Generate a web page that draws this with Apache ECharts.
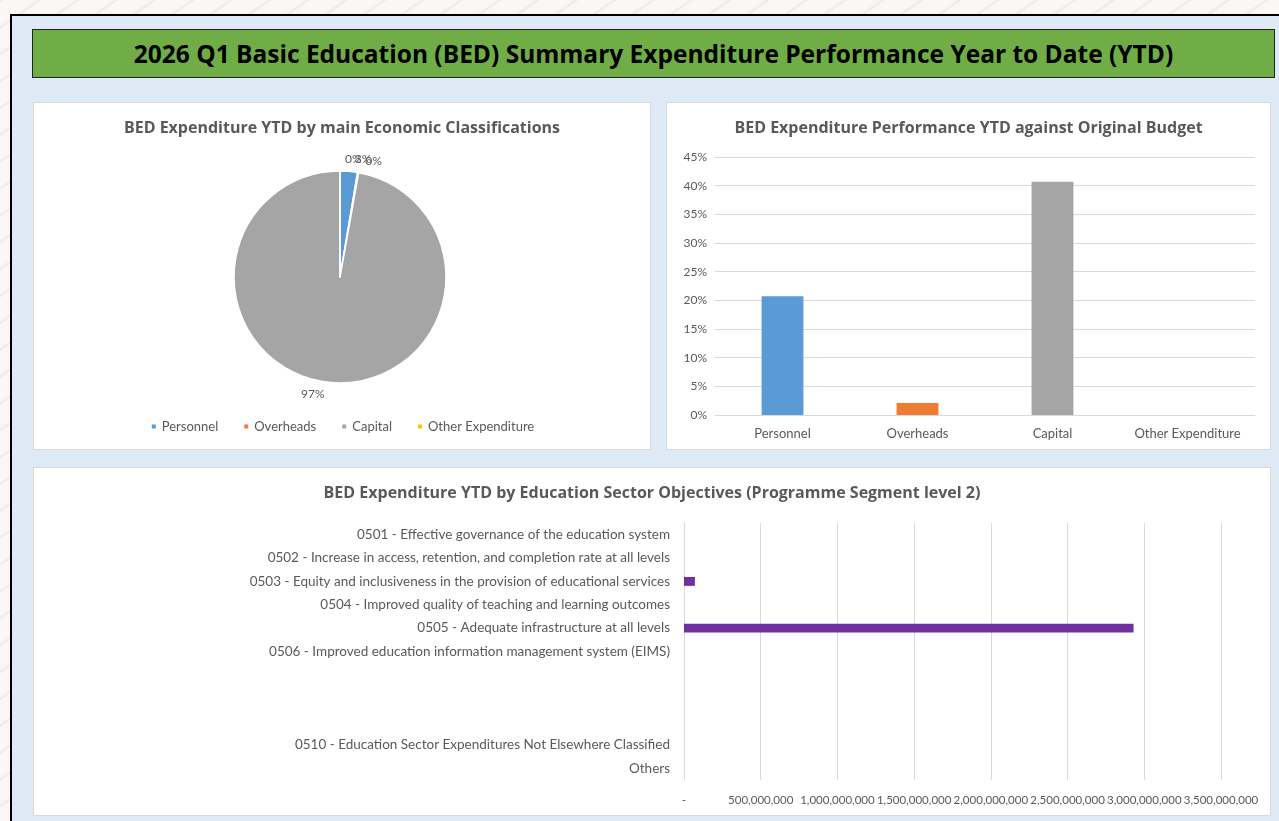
<!DOCTYPE html>
<html>
<head>
<meta charset="utf-8">
<script src="https://cdn.jsdelivr.net/npm/echarts@6/dist/echarts.min.js"></script>
<style>
  body { margin: 0; width: 1279px; height: 821px; overflow: hidden; position: relative;
    background: repeating-linear-gradient(-35deg, #fbf7f7 0px, #fbf7f7 18px, #f3e6e6 19px, #fbf7f7 22px); }
  #frame { position: absolute; left: 10px; top: 14px; width: 1280px; height: 820px;
    border-left: 2px solid #000; border-top: 2px solid #000; background: #DEEBF7; }
  #banner { position: absolute; left: 32px; top: 29px; width: 1241px; height: 47px;
    background: #70AD47; border: 1.5px solid #222; font-family: "Open Sans", sans-serif; font-weight: bold;
    font-size: 24.5px; line-height: 47px; text-align: center; color: #000; }
  .panel { position: absolute; background: #fff; border: 1px solid #d9d9d9; box-sizing: border-box; }
  #pie { left: 33px; top: 102px; width: 618px; height: 348px; }
  #bar { left: 666px; top: 102px; width: 605px; height: 348px; }
  #hbar { left: 33px; top: 467px; width: 1238px; height: 349px; }
</style>
</head>
<body>
<div id="frame"></div>
<div id="banner">2026 Q1 Basic Education (BED) Summary Expenditure Performance Year to Date (YTD)</div>
<div class="panel" id="pie"></div>
<div class="panel" id="bar"></div>
<div class="panel" id="hbar"></div>
<script>
// economic classifications
var classNames = ['Personnel', 'Overheads', 'Capital', 'Other Expenditure']
var classColors = ['#5B9BD5', '#ED7D31', '#A5A5A5', '#FFC000']
var expenditureYTD = [80000000, 5000000, 2930000000, 0]   // for the pie
var performanceYTD = [0.207, 0.021, 0.407, 0]               // share of original budget

// programme segment level 2
var objectives = [
  '0501 - Effective governance of the education system',
  '0502 - Increase in access, retention, and completion rate at all levels',
  '0503 - Equity and inclusiveness in the provision of educational services',
  '0504 - Improved quality of teaching and learning outcomes',
  '0505 - Adequate infrastructure at all levels',
  '0506 - Improved education information management system (EIMS)',
  '', ' ', '  ',
  '0510 - Education Sector Expenditures Not Elsewhere Classified',
  'Others'
]
var objectiveValues = [0, 0, 71000000, 0, 2930000000, 0, 0, 0, 0, 0, 0]

var font = 'Lato, sans-serif'
var txt = '#595959'
var titleStyle = { color: txt, fontSize: 16, fontWeight: 'bold', fontFamily: '"Open Sans", sans-serif' }

// pie
var pieChart = echarts.init(document.getElementById('pie'))
pieChart.setOption({
  animation: false,
  title: { text: 'BED Expenditure YTD by main Economic Classifications', left: 'center', top: 12, textStyle: titleStyle },
  legend: {
    bottom: 11, left: 'center', itemWidth: 6, itemHeight: 6, itemGap: 24, icon: 'rect',
    textStyle: { color: txt, fontSize: 13, fontFamily: font },
    data: classNames
  },
  series: [{
    type: 'pie',
    center: [306, 174],
    radius: 106,
    startAngle: 90,
    percentPrecision: 0,
    avoidLabelOverlap: false,
    labelLayout: { hideOverlap: false },
    itemStyle: { borderColor: '#fff', borderWidth: 1.5 },
    label: { show: true, position: 'outside', formatter: '{d}%', color: txt, fontSize: 12, fontFamily: font },
    labelLine: { show: false, length: 12, length2: 0 },
    data: classNames.map(function (n, i) {
      return { name: n, value: expenditureYTD[i], itemStyle: { color: classColors[i] } }
    })
  }]
})

// vertical bars
var barChart = echarts.init(document.getElementById('bar'))
barChart.setOption({
  animation: false,
  title: { text: 'BED Expenditure Performance YTD against Original Budget', left: 'center', top: 12, textStyle: titleStyle },
  grid: { left: 48, right: 15, top: 54, bottom: 34 },
  xAxis: {
    type: 'category', data: classNames,
    axisLine: { lineStyle: { color: '#d9d9d9' } }, axisTick: { show: false },
    axisLabel: { interval: 0, color: txt, fontSize: 13, fontFamily: font, margin: 12 }
  },
  yAxis: {
    type: 'value', min: 0, max: 0.45, interval: 0.05,
    axisLabel: { color: txt, fontSize: 12, fontFamily: font, formatter: function (v) { return Math.round(v * 100) + '%' } },
    splitLine: { lineStyle: { color: '#d9d9d9' } }
  },
  series: [{
    type: 'bar', barWidth: '31%',
    data: performanceYTD.map(function (v, i) { return { value: v, itemStyle: { color: classColors[i] } } })
  }]
})

// horizontal bars
var hbarChart = echarts.init(document.getElementById('hbar'))
hbarChart.setOption({
  animation: false,
  title: { text: 'BED Expenditure YTD by Education Sector Objectives (Programme Segment level 2)', left: 'center', top: 12, textStyle: titleStyle },
  grid: { left: 650, right: 49, top: 55, bottom: 35 },
  yAxis: {
    type: 'category', inverse: true, data: objectives,
    axisLine: { lineStyle: { color: '#d9d9d9' } }, axisTick: { show: false },
    axisLabel: { interval: 0, color: txt, fontSize: 13.5, fontFamily: font, margin: 14 }
  },
  xAxis: {
    type: 'value', min: 0, max: 3500000000, interval: 500000000,
    axisLabel: { color: txt, fontSize: 11.5, fontFamily: font, margin: 14, showMaxLabel: true, showMinLabel: true,
      formatter: function (v) { return v === 0 ? '-' : v.toLocaleString('en-US') } },
    splitLine: { lineStyle: { color: '#d9d9d9' } }
  },
  series: [{ type: 'bar', barWidth: '38%', itemStyle: { color: '#7030A0' }, data: objectiveValues }]
})
</script>
</body>
</html>
